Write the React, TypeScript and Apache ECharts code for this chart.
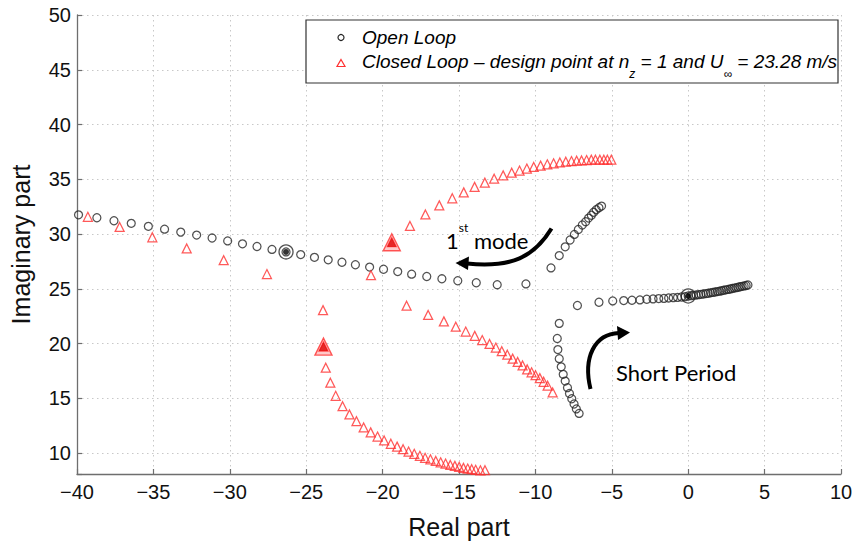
import React, { useEffect, useRef } from "react";
import * as echarts from "echarts";

type Pt = [number, number];

// Open-loop eigenvalues (real, imaginary)
const openLoopFirstMode: Pt[] = [
  [-39.9, 31.76], [-38.7, 31.49], [-37.58, 31.22], [-36.45, 30.98], [-35.33, 30.71],
  [-34.27, 30.45], [-33.21, 30.18], [-32.17, 29.91], [-31.16, 29.64], [-30.14, 29.38],
  [-29.17, 29.11], [-28.22, 28.87], [-27.24, 28.6], [-26.32, 28.37], [-25.36, 28.13],
  [-24.46, 27.88], [-23.56, 27.65], [-22.66, 27.43], [-21.78, 27.2], [-20.85, 26.99],
  [-19.94, 26.79], [-19.01, 26.58], [-18.1, 26.34], [-17.11, 26.13], [-16.12, 25.92],
  [-15.08, 25.74], [-13.87, 25.56], [-12.5, 25.38], [-10.62, 25.45], [-8.98, 26.91],
  [-8.44, 28.04], [-8.05, 28.84], [-7.73, 29.46], [-7.45, 29.97], [-7.19, 30.42],
  [-6.93, 30.83], [-6.71, 31.13], [-6.52, 31.46], [-6.34, 31.72], [-6.19, 31.99],
  [-6.02, 32.23], [-5.84, 32.41], [-5.67, 32.56],
];

const openLoopShortPeriod: Pt[] = [
  [-7.14, 13.63], [-7.32, 14.04], [-7.47, 14.49], [-7.62, 14.97], [-7.77, 15.45],
  [-7.9, 15.98], [-8.05, 16.58], [-8.18, 17.2], [-8.31, 17.88], [-8.44, 18.63],
  [-8.53, 19.46], [-8.57, 20.47], [-8.44, 21.85], [-7.25, 23.48], [-5.84, 23.78],
  [-4.94, 23.9], [-4.22, 23.93], [-3.68, 23.96], [-3.16, 23.99], [-2.71, 24.05],
  [-2.3, 24.08], [-1.93, 24.11], [-1.59, 24.13], [-1.28, 24.17], [-0.98, 24.2],
  [-0.7, 24.22], [-0.44, 24.26], [-0.2, 24.29], [0.0, 24.35], [0.18, 24.38],
  [0.35, 24.41], [0.52, 24.44], [0.68, 24.47], [0.84, 24.5], [1.0, 24.53],
  [1.16, 24.57], [1.31, 24.6], [1.46, 24.64], [1.61, 24.68], [1.76, 24.71],
  [1.91, 24.75], [2.05, 24.79], [2.19, 24.83], [2.33, 24.87], [2.47, 24.91],
  [2.61, 24.95], [2.75, 24.99], [2.88, 25.03], [3.01, 25.07], [3.14, 25.11],
  [3.27, 25.15], [3.4, 25.19], [3.53, 25.23], [3.66, 25.27], [3.79, 25.31],
  [3.91, 25.35],
];

// Closed-loop eigenvalues (real, imaginary)
const closedLoopLeft: Pt[] = [
  [-39.29, 31.58], [-37.21, 30.65], [-35.07, 29.71], [-32.82, 28.69], [-30.4, 27.62],
  [-27.57, 26.35], [-20.76, 26.25],
];

const closedLoopUpper: Pt[] = [
  [-19.4, 29.26], [-18.21, 30.74], [-17.2, 31.79], [-16.29, 32.62], [-15.44, 33.27],
  [-14.69, 33.81], [-13.98, 34.31], [-13.31, 34.7], [-12.7, 35.06], [-12.11, 35.36],
  [-11.55, 35.6], [-11.04, 35.8], [-10.56, 35.98], [-10.11, 36.13], [-9.66, 36.25],
  [-9.22, 36.37], [-8.81, 36.46], [-8.4, 36.54], [-8.01, 36.61], [-7.64, 36.67],
  [-7.3, 36.7], [-6.98, 36.72], [-6.65, 36.76], [-6.34, 36.79], [-6.07, 36.79],
  [-5.78, 36.79], [-5.52, 36.79], [-5.29, 36.79], [-5.03, 36.79],
];

const closedLoopMiddle: Pt[] = [
  [-18.43, 23.46], [-17.02, 22.62], [-15.99, 22.03], [-15.21, 21.55], [-14.56, 21.1],
  [-13.97, 20.71], [-13.48, 20.33], [-13.0, 19.97], [-12.59, 19.64], [-12.2, 19.31],
  [-11.84, 18.99], [-11.49, 18.63], [-11.16, 18.33], [-10.84, 18.01], [-10.54, 17.65],
  [-10.25, 17.38], [-9.99, 17.12], [-9.71, 16.85], [-9.46, 16.52], [-9.2, 16.16],
  [-8.87, 15.54],
];

const closedLoopLower: Pt[] = [
  [-23.9, 23.06], [-23.87, 19.73], [-23.72, 17.8], [-23.42, 16.43], [-23.07, 15.24],
  [-22.62, 14.29], [-22.17, 13.54], [-21.71, 12.92], [-21.24, 12.35], [-20.78, 11.9],
  [-20.33, 11.52], [-19.9, 11.16], [-19.46, 10.86], [-19.05, 10.6], [-18.66, 10.36],
  [-18.3, 10.15], [-17.93, 9.94], [-17.56, 9.76], [-17.22, 9.58], [-16.87, 9.44],
  [-16.52, 9.29], [-16.2, 9.17], [-15.88, 9.05], [-15.57, 8.93], [-15.27, 8.84],
  [-14.99, 8.75], [-14.71, 8.66], [-14.43, 8.6], [-14.17, 8.54], [-13.91, 8.48],
  [-13.6, 8.44], [-13.3, 8.45],
];

// Design points at n_z = 1
const openLoopDesign: Pt[] = [[-26.32, 28.37], [0.0, 24.35]];
const closedLoopDesign: Pt[] = [[-19.4, 29.26], [-23.87, 19.73]];

const xRange = { min: -40, max: 10, step: 5 };
const yRange = { min: 8.1, max: 50, step: 5, splits: 8 };

const legendLabels = {
  open: "Open Loop",
  closed: "Closed Loop \u2013 design point at n{sub|z} = 1 and U{sub|\u221E} = 23.28 m/s",
};

const axisNames = { x: "Real part", y: "Imaginary part" };

const BLACK = "#262626";
const RED = "#ff3030";
const AXIS = "#6e6e6e";
const TICK_FONT = '"Liberation Sans", Arial, sans-serif';
const NOTE_FONT = 'Lato, "Open Sans", sans-serif';

export default function App() {
  const ref = useRef<HTMLDivElement>(null);

  useEffect(() => {
    if (!ref.current) return;
    const chart = echarts.init(ref.current, null, { renderer: "svg" });

    const minus = (v: number) => (v < 0 ? "\u2212" + Math.abs(v) : String(v));
    const onStep = (v: number) => Math.abs(v / yRange.step - Math.round(v / yRange.step)) < 1e-6;

    chart.setOption({
      animation: false,
      backgroundColor: "#ffffff",
      grid: { left: 70, right: 15, top: 15, bottom: 60, containLabel: false },
      xAxis: {
        type: "value",
        min: xRange.min,
        max: xRange.max,
        interval: xRange.step,
        name: axisNames.x,
        nameLocation: "middle",
        nameGap: 40,
        nameTextStyle: { color: "#111", fontSize: 25, fontFamily: TICK_FONT },
        axisLine: { show: true, onZero: false, lineStyle: { color: AXIS, width: 1.3 } },
        axisTick: { show: true, inside: true, length: 5, lineStyle: { color: AXIS, width: 1.2 } },
        axisLabel: {
          color: "#111",
          fontSize: 20,
          fontFamily: TICK_FONT,
          margin: 8,
          formatter: (v: number) => minus(v),
        },
        splitLine: { show: true, lineStyle: { color: "#c8c8c8", type: [1.5, 3.5], width: 1 } },
      },
      yAxis: {
        type: "value",
        min: yRange.min,
        max: yRange.max,
        splitNumber: yRange.splits,
        name: axisNames.y,
        nameLocation: "middle",
        nameGap: 44,
        nameTextStyle: { color: "#111", fontSize: 25, fontFamily: TICK_FONT },
        axisLine: { show: true, onZero: false, lineStyle: { color: AXIS, width: 1.3 } },
        axisTick: { show: true, inside: true, length: 5, lineStyle: { color: AXIS, width: 1.2 } },
        axisLabel: {
          color: "#111",
          fontSize: 20,
          fontFamily: TICK_FONT,
          margin: 6,
          formatter: (v: number) => (onStep(v) ? String(v) : ""),
        },
        splitLine: { show: true, lineStyle: { color: "#c8c8c8", type: [1.5, 3.5], width: 1 } },
      },
      series: [
        {
          name: "Open Loop",
          type: "scatter",
          symbol: "circle",
          symbolSize: 8,
          data: [...openLoopFirstMode, ...openLoopShortPeriod],
          itemStyle: { color: "rgba(255,255,255,0)", borderColor: BLACK, borderWidth: 1.25 },
          z: 3,
        },
        {
          name: "Closed Loop",
          type: "scatter",
          symbol: "triangle",
          symbolSize: 9,
          data: [...closedLoopLeft, ...closedLoopUpper, ...closedLoopMiddle, ...closedLoopLower],
          itemStyle: { color: "rgba(255,255,255,0)", borderColor: RED, borderWidth: 1.25 },
          z: 3,
        },
        {
          name: "Open Loop design ring",
          type: "scatter",
          symbol: "circle",
          symbolSize: 14,
          data: openLoopDesign,
          itemStyle: { color: "rgba(255,255,255,0)", borderColor: BLACK, borderWidth: 1.3 },
          z: 4,
        },
        {
          name: "Open Loop design dot",
          type: "scatter",
          symbol: "circle",
          symbolSize: 6,
          data: openLoopDesign,
          itemStyle: { color: "#000" },
          z: 5,
        },
        {
          name: "Closed Loop design outline",
          type: "scatter",
          symbol: "triangle",
          symbolSize: 17,
          data: closedLoopDesign,
          itemStyle: { color: "rgba(255,60,60,0.35)", borderColor: RED, borderWidth: 1.4 },
          z: 4,
        },
        {
          name: "Closed Loop design fill",
          type: "scatter",
          symbol: "triangle",
          symbolSize: 9,
          data: closedLoopDesign,
          itemStyle: { color: "#e00000" },
          z: 5,
        },
      ],
      graphic: [
        // legend box
        {
          type: "rect",
          shape: { x: 306, y: 20, width: 532, height: 63 },
          style: { fill: "#fff", stroke: "#333", lineWidth: 1.2 },
          z: 10,
        },
        {
          type: "circle",
          shape: { cx: 341, cy: 37.5, r: 3 },
          style: { fill: "none", stroke: BLACK, lineWidth: 1.2 },
          z: 11,
        },
        {
          type: "polygon",
          shape: { points: [[341, 59.5], [345, 66.5], [337, 66.5]] },
          style: { fill: "none", stroke: RED, lineWidth: 1.2 },
          z: 11,
        },
        {
          type: "text",
          x: 362,
          y: 37.5,
          style: {
            text: legendLabels.open,
            fontSize: 19,
            fontStyle: "italic",
            fontFamily: TICK_FONT,
            fill: "#000",
            verticalAlign: "middle",
          },
          z: 11,
        },
        {
          type: "text",
          x: 362,
          y: 52,
          style: {
            text: "{m|" + legendLabels.closed.replace(/\{sub\|([^}]*)\}/g, "}{sub|$1}{m|") + "}",
            verticalAlign: "top",
            fill: "#000",
            rich: {
              m: {
                fontSize: 19,
                fontStyle: "italic",
                fontFamily: TICK_FONT,
                lineHeight: 21,
                verticalAlign: "top",
                fill: "#000",
              },
              sub: {
                fontSize: 12,
                fontStyle: "italic",
                fontFamily: TICK_FONT,
                lineHeight: 12,
                padding: [16, 0, 0, 0],
                verticalAlign: "top",
                fill: "#000",
              },
            },
          },
          z: 11,
        },
        // "1st mode" annotation
        {
          type: "text",
          x: 446,
          y: 221,
          style: {
            text: "{m|1}{s|st}{m| mode}",
            verticalAlign: "top",
            rich: {
              m: {
                fontSize: 22,
                fontFamily: NOTE_FONT,
                lineHeight: 24,
                padding: [8, 0, 0, 0],
                verticalAlign: "top",
                fill: "#000",
              },
              s: {
                fontSize: 12,
                fontFamily: NOTE_FONT,
                lineHeight: 12,
                verticalAlign: "top",
                fill: "#000",
              },
            },
          },
          z: 11,
        },
        {
          type: "bezierCurve",
          shape: { x1: 551.5, y1: 228.5, cpx1: 534, cpy1: 257, cpx2: 512, cpy2: 268, x2: 467, y2: 263.5 },
          style: { stroke: "#000", lineWidth: 4, fill: "none" },
          z: 11,
        },
        {
          type: "polygon",
          shape: { points: [[455.5, 263], [469, 256.5], [468, 270]] },
          style: { fill: "#000" },
          z: 11,
        },
        // "Short Period" annotation
        {
          type: "text",
          x: 616,
          y: 372,
          style: {
            text: "Short Period",
            fontSize: 22,
            fontFamily: NOTE_FONT,
            fill: "#000",
            verticalAlign: "middle",
          },
          z: 11,
        },
        {
          type: "bezierCurve",
          shape: { x1: 590.5, y1: 389, cpx1: 583, cpy1: 358, cpx2: 594, cpy2: 334, x2: 619, y2: 333 },
          style: { stroke: "#000", lineWidth: 4, fill: "none" },
          z: 11,
        },
        {
          type: "polygon",
          shape: { points: [[630, 332.5], [617, 326], [618, 340]] },
          style: { fill: "#000" },
          z: 11,
        },
      ],
    });

    return () => chart.dispose();
  }, []);

  return (
    <div
      ref={ref}
      style={{ position: "fixed", left: 0, top: 0, width: 856, height: 544, background: "#fff" }}
    />
  );
}
